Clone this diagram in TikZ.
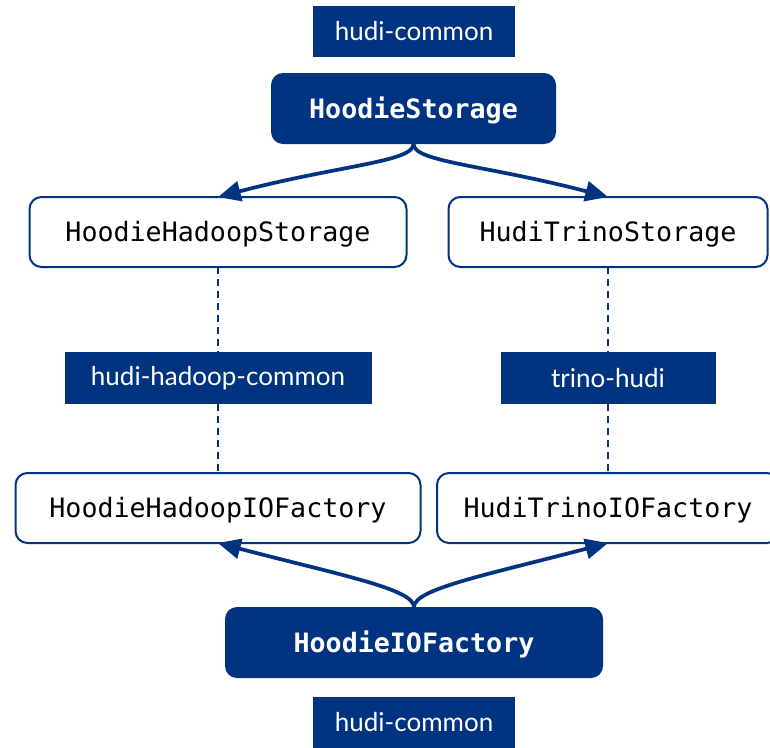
\documentclass[tikz,border=0pt]{standalone}
\usepackage{fontspec}
\setmainfont{Lato}
\setmonofont{DejaVu Sans Mono}
\usetikzlibrary{arrows.meta}
\definecolor{hudiblue}{RGB}{0,51,128}

\begin{document}
\begin{tikzpicture}[x=0.75pt,y=-0.75pt,inner sep=0pt,outer sep=0pt,
modlabel/.style={fill=hudiblue,text=white,font=\fontsize{19.5}{23}\selectfont,minimum height=38.25pt},
coreblock/.style={fill=hudiblue,text=white,rounded corners=9pt,font=\ttfamily\bfseries\fontsize{20}{24}\selectfont,text height=16pt,text depth=1.5pt,minimum height=53.25pt},
implblock/.style={draw=hudiblue,line width=1.5pt,fill=white,rounded corners=9pt,font=\ttfamily\fontsize{20}{24}\selectfont,text height=16pt,text depth=1.7pt,minimum height=52.5pt},
deriv/.style={hudiblue,line width=2.8pt,-{Triangle[length=17pt,width=15pt]}},
modlink/.style={hudiblue,line width=1.4pt,dash pattern=on 5pt off 4pt}]

\useasboundingbox (0,0) rectangle (770,747);

\draw (414,31.5) node[modlabel,minimum width=151.5pt] (topmod) {hudi-common};
\draw (413.5,108.5) node[coreblock,minimum width=213.75pt] (hs) {HoodieStorage};
\draw (218,232) node[implblock,minimum width=282.75pt] (hhs) {HoodieHadoopStorage};
\draw (608,232) node[implblock,minimum width=239.25pt] (hts) {HudiTrinoStorage};
\draw (218,378) node[modlabel,minimum width=230.25pt,minimum height=39pt] (hhc) {hudi-hadoop-common};
\draw (608,378) node[modlabel,minimum width=161.25pt,minimum height=39pt] (trh) {trino-hudi};
\draw (218,508) node[implblock,minimum width=303.75pt] (hhf) {HoodieHadoopIOFactory};
\draw (608,508) node[implblock,minimum width=256.5pt] (htf) {HudiTrinoIOFactory};
\draw (414,642.5) node[coreblock,minimum width=283.5pt] (hf) {HoodieIOFactory};
\draw (414,722.5) node[modlabel,minimum width=151.5pt] (botmod) {hudi-common};

% storage side
\draw[deriv] (hs.south) .. controls +(0,18) and +(122,-32) .. (hhs.north);
\draw[deriv] (hs.south) .. controls +(0,18) and +(-122,-32) .. (hts.north);

% module links
\draw[modlink] (hhs.south) -- (hhc.north);
\draw[modlink] (hhc.south) -- (hhf.north);
\draw[modlink] (hts.south) -- (trh.north);
\draw[modlink] (trh.south) -- (htf.north);

% io factory side
\draw[deriv] (hf.north) .. controls +(0,-18) and +(122,32) .. (hhf.south);
\draw[deriv] (hf.north) .. controls +(0,-18) and +(-122,32) .. (htf.south);
\end{tikzpicture}
\end{document}
